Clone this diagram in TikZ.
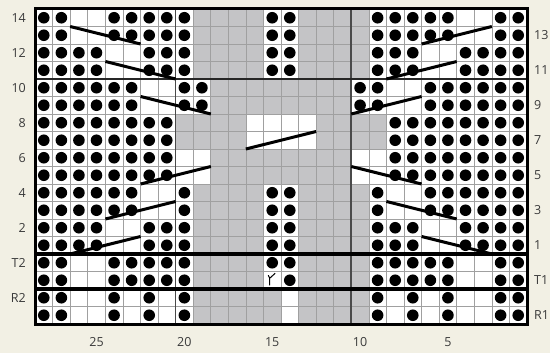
\documentclass[tikz,border=0pt]{standalone}
\usepackage{fontspec}
\setmainfont{Open Sans}
\definecolor{bg}{HTML}{F2F0E4}
\definecolor{cellgrey}{HTML}{C4C4C6}
\definecolor{gridline}{HTML}{A0A0A0}
\definecolor{repline}{HTML}{4A4A4A}
\definecolor{labelcol}{HTML}{3A3A3A}
\tikzset{
  gridthin/.style={draw=gridline, line width=0.7pt},
  repeatline/.style={draw=repline, line width=1.8pt},
  sectionline/.style={draw=black, line width=3.2pt},
  cable/.style={draw=black, line width=3pt},
  rowlabel/.style={text=labelcol, font=\fontsize{12.5}{14}\selectfont, inner sep=0pt},
  purl/.style={fill=black}
}
\begin{document}
\begin{tikzpicture}[x=1pt,y=-1pt]
\fill[bg] (0,0) rectangle (550,353);
\useasboundingbox (0,0) rectangle (550,353);
\def\cw{17.5714}
\def\ch{17.5}
% cells
\foreach \row [count=\i] in {
 {o,o,w,w,o,o,o,o,o,g,g,g,g,o,o,g,g,g,g,o,o,o,o,o,w,w,o,o},
 {o,o,w,w,o,o,o,o,o,g,g,g,g,o,o,g,g,g,g,o,o,o,o,o,w,w,o,o},
 {o,o,o,o,w,w,o,o,o,g,g,g,g,o,o,g,g,g,g,o,o,o,w,w,o,o,o,o},
 {o,o,o,o,w,w,o,o,o,g,g,g,g,o,o,g,g,g,g,o,o,o,w,w,o,o,o,o},
 {o,o,o,o,o,o,w,w,o,o,g,g,g,g,g,g,g,g,o,o,w,w,o,o,o,o,o,o},
 {o,o,o,o,o,o,w,w,o,o,g,g,g,g,g,g,g,g,o,o,w,w,o,o,o,o,o,o},
 {o,o,o,o,o,o,o,o,g,g,g,g,w,w,w,w,g,g,g,g,o,o,o,o,o,o,o,o},
 {o,o,o,o,o,o,o,o,g,g,g,g,w,w,w,w,g,g,g,g,o,o,o,o,o,o,o,o},
 {o,o,o,o,o,o,o,o,w,w,g,g,g,g,g,g,g,g,w,w,o,o,o,o,o,o,o,o},
 {o,o,o,o,o,o,o,o,w,w,g,g,g,g,g,g,g,g,w,w,o,o,o,o,o,o,o,o},
 {o,o,o,o,o,o,w,w,o,g,g,g,g,o,o,g,g,g,g,o,w,w,o,o,o,o,o,o},
 {o,o,o,o,o,o,w,w,o,g,g,g,g,o,o,g,g,g,g,o,w,w,o,o,o,o,o,o},
 {o,o,o,o,w,w,o,o,o,g,g,g,g,o,o,g,g,g,g,o,o,o,w,w,o,o,o,o},
 {o,o,o,o,w,w,o,o,o,g,g,g,g,o,o,g,g,g,g,o,o,o,w,w,o,o,o,o},
 {o,o,w,w,o,o,o,o,o,g,g,g,g,o,o,g,g,g,g,o,o,o,o,o,w,w,o,o},
 {o,o,w,w,o,o,o,o,o,g,g,g,g,y,o,g,g,g,g,o,o,o,o,o,w,w,o,o},
 {o,o,w,w,o,w,o,w,o,g,g,g,g,g,w,g,g,g,g,o,w,o,w,o,w,w,o,o},
 {o,o,w,w,o,w,o,w,o,g,g,g,g,g,w,g,g,g,g,o,w,o,w,o,w,w,o,o}}{
  \foreach \c [count=\j] in \row {
    \if g\c
      \fill[cellgrey] ({35+(\j-1)*\cw},{9+(\i-1)*\ch}) rectangle ++(\cw,\ch);
    \else
      \fill[white] ({35+(\j-1)*\cw},{9+(\i-1)*\ch}) rectangle ++(\cw,\ch);
    \fi
  }
}
% grid
\foreach \k in {1,...,27} \draw[gridthin] ({35+\k*\cw},9) -- ({35+\k*\cw},324);
\foreach \k in {1,...,17} \draw[gridthin] (35,{9+\k*\ch}) -- (527,{9+\k*\ch});
% dots and symbol
\foreach \row [count=\i] in {
 {o,o,w,w,o,o,o,o,o,g,g,g,g,o,o,g,g,g,g,o,o,o,o,o,w,w,o,o},
 {o,o,w,w,o,o,o,o,o,g,g,g,g,o,o,g,g,g,g,o,o,o,o,o,w,w,o,o},
 {o,o,o,o,w,w,o,o,o,g,g,g,g,o,o,g,g,g,g,o,o,o,w,w,o,o,o,o},
 {o,o,o,o,w,w,o,o,o,g,g,g,g,o,o,g,g,g,g,o,o,o,w,w,o,o,o,o},
 {o,o,o,o,o,o,w,w,o,o,g,g,g,g,g,g,g,g,o,o,w,w,o,o,o,o,o,o},
 {o,o,o,o,o,o,w,w,o,o,g,g,g,g,g,g,g,g,o,o,w,w,o,o,o,o,o,o},
 {o,o,o,o,o,o,o,o,g,g,g,g,w,w,w,w,g,g,g,g,o,o,o,o,o,o,o,o},
 {o,o,o,o,o,o,o,o,g,g,g,g,w,w,w,w,g,g,g,g,o,o,o,o,o,o,o,o},
 {o,o,o,o,o,o,o,o,w,w,g,g,g,g,g,g,g,g,w,w,o,o,o,o,o,o,o,o},
 {o,o,o,o,o,o,o,o,w,w,g,g,g,g,g,g,g,g,w,w,o,o,o,o,o,o,o,o},
 {o,o,o,o,o,o,w,w,o,g,g,g,g,o,o,g,g,g,g,o,w,w,o,o,o,o,o,o},
 {o,o,o,o,o,o,w,w,o,g,g,g,g,o,o,g,g,g,g,o,w,w,o,o,o,o,o,o},
 {o,o,o,o,w,w,o,o,o,g,g,g,g,o,o,g,g,g,g,o,o,o,w,w,o,o,o,o},
 {o,o,o,o,w,w,o,o,o,g,g,g,g,o,o,g,g,g,g,o,o,o,w,w,o,o,o,o},
 {o,o,w,w,o,o,o,o,o,g,g,g,g,o,o,g,g,g,g,o,o,o,o,o,w,w,o,o},
 {o,o,w,w,o,o,o,o,o,g,g,g,g,y,o,g,g,g,g,o,o,o,o,o,w,w,o,o},
 {o,o,w,w,o,w,o,w,o,g,g,g,g,g,w,g,g,g,g,o,w,o,w,o,w,w,o,o},
 {o,o,w,w,o,w,o,w,o,g,g,g,g,g,w,g,g,g,g,o,w,o,w,o,w,w,o,o}}{
  \foreach \c [count=\j] in \row {
    \if o\c
      \fill[purl] ({35+(\j-0.5)*\cw},{9+(\i-0.5)*\ch}) circle[radius=5.8pt];
    \fi
    \if y\c
      \draw[black, line width=1pt]
        ({35+(\j-0.5)*\cw-2.5},{9+(\i-0.5)*\ch+5}) -- ({35+(\j-0.5)*\cw-2.5},{9+(\i-0.5)*\ch-2})
        -- ({35+(\j-0.5)*\cw+3},{9+(\i-0.5)*\ch-7});
      \draw[black, line width=1pt]
        ({35+(\j-0.5)*\cw-2.5},{9+(\i-0.5)*\ch-2}) -- ({35+(\j-0.5)*\cw-4},{9+(\i-0.5)*\ch-5});
    \fi
  }
}
% repeat lines
\draw[repeatline] ({35+8*\cw},9) -- ({35+8*\cw},324);
\draw[repeatline] ({35+18*\cw},9) -- ({35+18*\cw},324);
\draw[draw=black!85, line width=2pt] (35,79) -- (527,79);
% cables
\foreach \xa/\ya/\xb/\yb in {
  70.14/26.5/140.57/44, 105.43/61.5/175.57/79, 140.57/96.5/210.86/114,
  245.86/149/316.14/131.5,
  140.57/184/210.86/166.5, 105.43/219/175.57/201.5, 70.14/254/140.57/236.5,
  421.57/44/491.86/26.5, 386.43/79/456.71/61.5, 351.29/114/421.57/96.5,
  351.29/166.5/421.57/184, 386.43/201.5/456.71/219, 421.57/236.5/491.86/254}
  \draw[cable] (\xa,\ya) -- (\xb,\yb);
% section lines and frame
\draw[sectionline] (35,254) -- (527,254);
\draw[sectionline] (35,289) -- (527,289);
\draw[draw=black, line width=3pt] (35,9) rectangle (527,324);
% labels
\foreach \lab/\i in {14/1,12/3,10/5,8/7,6/9,4/11,2/13,T2/15,R2/17}
  \node[rowlabel, anchor=east] (ll\lab) at (26,{9+(\i-0.5)*\ch}) {\lab};
\foreach \lab/\i in {13/2,11/4,9/6,7/8,5/10,3/12,1/14,T1/16,R1/18}
  \node[rowlabel, anchor=west] (rl\lab) at (534,{9+(\i-0.5)*\ch}) {\lab};
\foreach \lab/\j in {25/4,20/9,15/14,10/19,5/24}
  \node[rowlabel] (bl\lab) at ({35+(\j-0.5)*\cw},342) {\lab};
\end{tikzpicture}
\end{document}
